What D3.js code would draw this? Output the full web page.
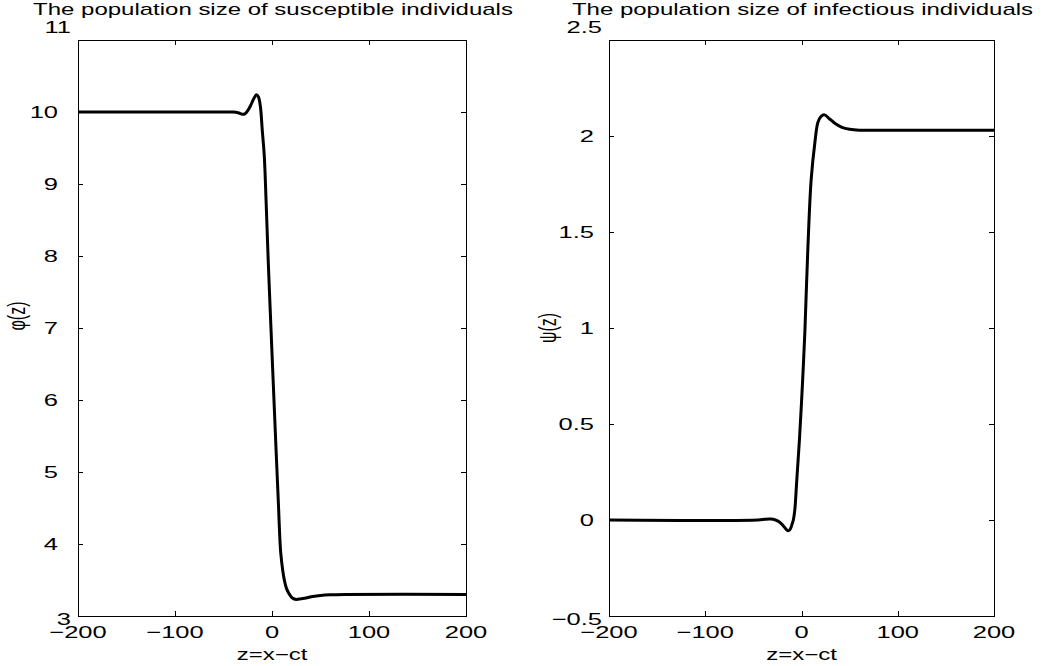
<!DOCTYPE html>
<html>
<head>
<meta charset="utf-8">
<script src="https://cdn.jsdelivr.net/npm/d3@7"></script>
<style>
  body { margin: 0; background: #fff; }
  text { font-family: "Liberation Sans", Arial, Helvetica, sans-serif; fill: #000; }
  .axis path, .axis line { stroke: #000; stroke-width: 1; shape-rendering: crispEdges; }
</style>
</head>
<body>
<div id="fig"></div>
<script>
// travelling wave profiles
var phiZ = [-200, -50, -40, -35, -31, -28, -25, -22, -19, -16, -14, -12, -10, -8, -6, -4, -2, 0, 2, 4, 6, 7, 8, 9, 11, 13, 15, 18, 21, 25, 30, 35, 42, 50, 60, 75, 200];
var phiV = [10, 10, 10, 9.99, 9.97, 9.975, 10.02, 10.09, 10.18, 10.24, 10.21, 10.08, 9.74, 9.40, 8.73, 7.97, 7.30, 6.65, 6.01, 5.37, 4.75, 4.43, 4.10, 3.88, 3.64, 3.48, 3.38, 3.30, 3.25, 3.23, 3.24, 3.25, 3.27, 3.285, 3.295, 3.30, 3.30];

var psiZ = [-200, -45, -38, -32, -27, -23, -19, -16, -14, -12, -10, -8.5, -7, -5, -2, 1, 3.5, 6.5, 10, 14, 17, 20, 24, 29, 35, 42, 50, 60, 80, 200];
var psiV = [0, 0, 0.004, 0.005, 0, -0.01, -0.03, -0.048, -0.056, -0.05, -0.025, 0, 0.05, 0.2, 0.43, 0.71, 0.98, 1.40, 1.77, 1.97, 2.07, 2.10, 2.11, 2.09, 2.065, 2.045, 2.035, 2.03, 2.03, 2.03];

var xTicks = [-200, -100, 0, 100, 200];
var phiTicks = [3, 4, 5, 6, 7, 8, 9, 10, 11];
var psiTicks = [-0.5, 0, 0.5, 1, 1.5, 2, 2.5];

var titles = ['The population size of susceptible individuals', 'The population size of infectious individuals'];
var yLabels = ['\u03c6(z)', '\u03c8(z)'];
var xLabel = 'z=x\u2212ct';

var width = 1048;
var height = 666;
var SX = 1.5; // the original figure is stretched sideways

var svg = d3.select('#fig').append('svg')
    .attr('width', width)
    .attr('height', height);

var panels = [
    { left: 78, right: 466, top: 40, bottom: 616, domY: [3, 11], ticks: phiTicks,
      z: phiZ, v: phiV, inEnd: 58, outEnd: 71, ylabX: 25, ylabY: 316 },
    { left: 609, right: 994, top: 40, bottom: 616, domY: [-0.5, 2.5], ticks: psiTicks,
      z: psiZ, v: psiV, inEnd: 594, outEnd: 602, ylabX: 556, ylabY: 328 }
];

function putText(g, x, y, str, anchor, size, rotate) {
    return g.append('text')
        .attr('transform', `translate(${x},${y}) scale(${SX},1)` + (rotate ? ' rotate(-90)' : ''))
        .attr('text-anchor', anchor)
        .style('font-size', size + 'px')
        .text(str);
}

var fmt = d3.format('');

panels.forEach(function (p, i) {
    var xScale = d3.scaleLinear().domain([-200, 200]).range([p.left, p.right]);
    var yScale = d3.scaleLinear().domain(p.domY).range([p.bottom, p.top]);

    // box with inward ticks on all four sides
    svg.append('g').attr('class', 'axis')
        .attr('transform', `translate(0,${p.bottom})`)
        .call(d3.axisBottom(xScale).tickValues(xTicks).tickSize(-5).tickSizeOuter(0).tickFormat(''));
    svg.append('g').attr('class', 'axis')
        .attr('transform', `translate(0,${p.top})`)
        .call(d3.axisTop(xScale).tickValues(xTicks).tickSize(-5).tickSizeOuter(0).tickFormat(''));
    svg.append('g').attr('class', 'axis')
        .attr('transform', `translate(${p.left},0)`)
        .call(d3.axisLeft(yScale).tickValues(p.ticks).tickSize(-5).tickSizeOuter(0).tickFormat(''));
    svg.append('g').attr('class', 'axis')
        .attr('transform', `translate(${p.right},0)`)
        .call(d3.axisRight(yScale).tickValues(p.ticks).tickSize(-5).tickSizeOuter(0).tickFormat(''));

    var lab = svg.append('g');
    xTicks.forEach(function (t) {
        putText(lab, xScale(t), p.bottom + 22, fmt(t).replace('-', '\u2212'), 'middle', 17);
    });
    var n = p.ticks.length;
    p.ticks.forEach(function (t, k) {
        var s = fmt(t).replace('-', '\u2212');
        if (k === 0) putText(lab, p.outEnd, yScale(t) + 9, s, 'end', 17);
        else if (k === n - 1) putText(lab, p.outEnd, yScale(t) - 7, s, 'end', 17);
        else putText(lab, p.inEnd, yScale(t) + 6, s, 'end', 17);
    });

    putText(lab, (p.left + p.right) / 2, p.bottom + 44, xLabel, 'middle', 16);
    putText(lab, p.ylabX, p.ylabY, yLabels[i], 'middle', 16, true);
    putText(lab, (p.left + p.right) / 2 + 1, 15, titles[i], 'middle', 16);

    var pts = p.z.map(function (z, k) { return [z, p.v[k]]; });
    var line = d3.line()
        .x(d => xScale(d[0]))
        .y(d => yScale(d[1]))
        .curve(d3.curveCatmullRom.alpha(0.5));

    svg.append('path')
        .datum(pts)
        .attr('d', line)
        .attr('fill', 'none')
        .attr('stroke', '#000')
        .attr('stroke-width', 3)
        .attr('stroke-linejoin', 'round');
});
</script>
</body>
</html>
